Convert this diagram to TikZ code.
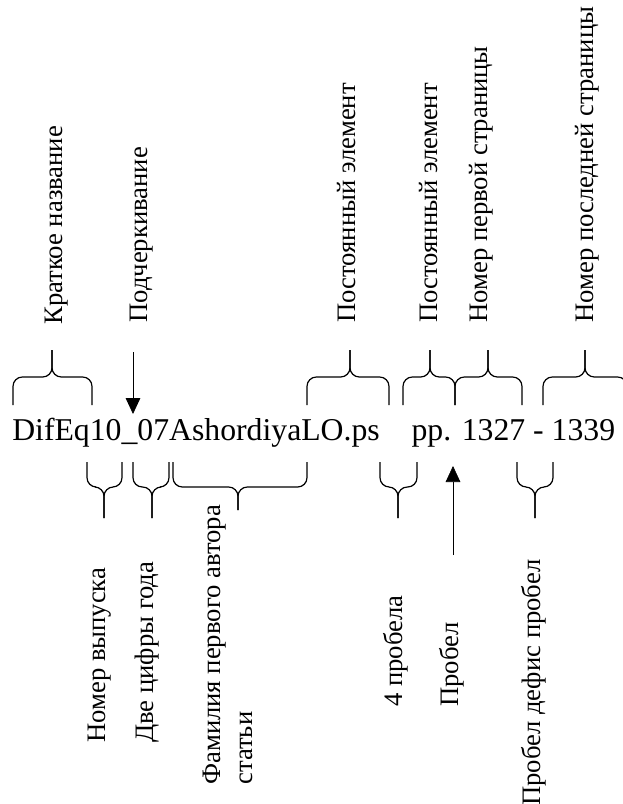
\documentclass[tikz,border=0pt]{standalone}
\usepackage{fontspec}
\setmainfont{Liberation Serif}
\usetikzlibrary{arrows.meta}

% curly braces: left end, right end, tip x (and tip y below)
\newcommand{\topbrace}[3]{%
  \draw[brace] (#1,405) |- (#3,377) -- (#3,350);
  \draw[brace] (#2,405) |- (#3,377) -- (#3,350);}
\newcommand{\botbrace}[4]{%
  \draw[brace] (#1,462) |- (#3,487) -- (#3,#4);
  \draw[brace] (#2,462) |- (#3,487) -- (#3,#4);}

\begin{document}
\begin{tikzpicture}[
        x=0.75pt, y=-0.75pt,
        brace/.style={line width=0.9pt, rounded corners=7pt},
        arr/.style={-{Triangle[length=12pt,width=11pt]}, line width=0.6pt},
        lbl/.style={rotate=90, anchor=base west, inner sep=0pt,
            font=\fontsize{20}{24}\selectfont}
    ]
    \useasboundingbox (0,0) rectangle (623,804);

    \node[anchor=base west, inner sep=0pt, font=\fontsize{23.8}{28}\selectfont] (fname)
        at (12,440) {DifEq10\_07AshordiyaLO.ps\ \ \ \ pp. 1327 - 1339};

    % top labels
    \node[lbl] (lblShort)  at (62,325)  {Краткое название};
    \node[lbl] (lblUnder)  at (147,323) {Подчеркивание};
    \node[lbl] (lblConstA) at (355,323) {Постоянный элемент};
    \node[lbl] (lblConstB) at (437,323) {Постоянный элемент};
    \node[lbl] (lblFirst)  at (487,323) {Номер первой страницы};
    \node[lbl] (lblLast)   at (593,323) {Номер последней страницы};

    % bottom labels
    \node[lbl] (lblIssue)  at (105,743) {Номер выпуска};
    \node[lbl] (lblYear)   at (153,743) {Две цифры года};
    \node[lbl, anchor=north west, align=left] (lblAuthor) at (203,785)
        {Фамилия первого автора\\статьи};
    \node[lbl] (lblSpaces) at (402,707) {4 пробела};
    \node[lbl] (lblSpace)  at (458,707) {Пробел};
    \node[lbl] (lblDash)   at (540,806) {Пробел дефис пробел};

    \topbrace{13}{92}{52}
    \topbrace{307}{389}{350}
    \topbrace{403}{455}{430}
    \topbrace{455}{522}{488}
    \topbrace{543}{627}{585}

    \botbrace{87}{122}{104}{518}
    \botbrace{133}{169}{152}{518}
    \botbrace{173}{307}{238}{510}
    \botbrace{380}{417}{398}{518}
    \botbrace{517}{553}{535}{518}

    \coordinate (underTop) at (133,352);
    \coordinate (underPt)  at (133,414);
    \coordinate (spaceBot) at (453,555);
    \coordinate (spacePt)  at (453,466);
    \draw[arr] (underTop) -- (underPt);
    \draw[arr, line width=0.4pt] (spaceBot) -- (spacePt);

\end{tikzpicture}
\end{document}
